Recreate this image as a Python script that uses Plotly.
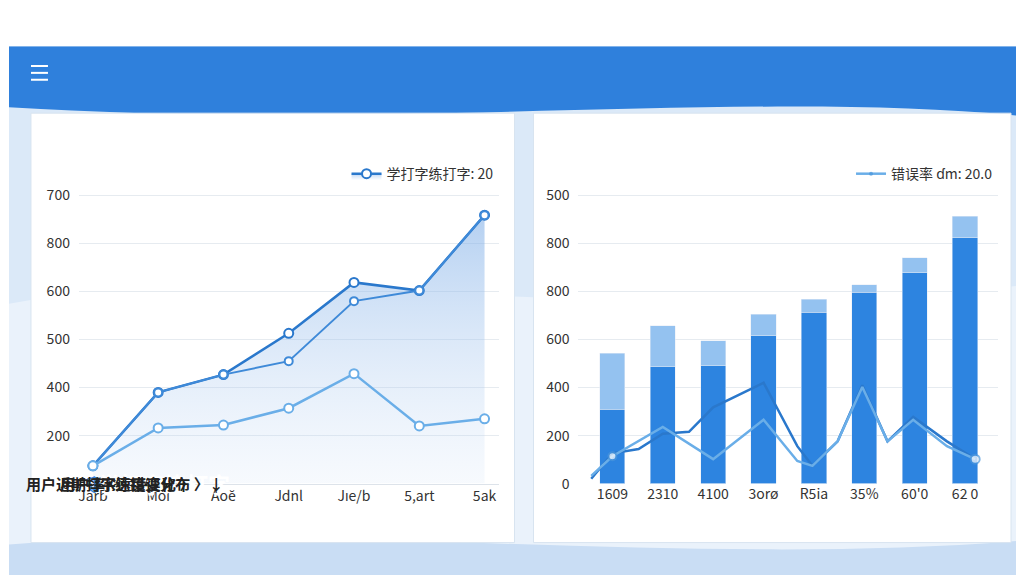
import plotly.graph_objects as go

# ---- data ----
months = ["Jarb", "Mo\u0131", "Ao\u0115", "Jdnl", "J\u0131e/b", "5,art", "5ak"]
left_top = [37, 190, 227, 313, 419, 402, 559]
left_mid = [37, 190, 227, 255, 380, 402, 559]
left_low = [37, 116, 122, 157, 229, 120, 135]
left_ticktext = ["0", "200", "400", "500", "600", "800", "700"]

cats = ["1609", "2310", "4100", "3orø", "R5ia", "35%", "60'0", "62 0"]
bar_dark = [155, 243, 245, 308, 357, 398, 439, 512]
bar_light = [116, 86, 53, 45, 27, 16, 31, 45]
right_ticktext = ["0", "200", "400", "600", "800", "800", "500"]
line_dark_x = [-0.42, 0, 0.52, 1, 1.52, 2, 3, 3.67, 3.97, 4.47, 4.96, 5.46, 5.97, 6.64, 7.2]
line_dark_y = [10, 63, 72, 104, 108, 159, 210, 78, 37, 88, 205, 88, 139, 88, 51]
line_light_x = [-0.42, 0, 1, 2, 3, 3.67, 3.97, 4.47, 4.96, 5.46, 5.97, 6.64, 7.2]
line_light_y = [16, 57, 118, 51, 133, 47, 37, 88, 201, 88, 133, 78, 51]

W, H = 1024, 576
def px(x): return x / W
def py(y): return 1 - y / H

fig = go.Figure()

# left chart traces
fig.add_trace(go.Scatter(x=list(range(7)), y=left_top, mode="lines+markers", fill="tozeroy",
    fillgradient=dict(type="vertical", colorscale=[[0, "rgba(200,220,245,0.15)"], [1, "rgba(120,170,230,0.55)"]]),
    line=dict(color="#2a78cc", width=2.5),
    marker=dict(size=9, color="white", line=dict(color="#2a78cc", width=2)),
    name="学打字练打字: 20", xaxis="x", yaxis="y", legend="legend"))
fig.add_trace(go.Scatter(x=list(range(7)), y=left_mid, mode="lines+markers",
    line=dict(color="#3f8ad8", width=2), marker=dict(size=8, color="white", line=dict(color="#3f8ad8", width=2)),
    showlegend=False, xaxis="x", yaxis="y"))
fig.add_trace(go.Scatter(x=list(range(7)), y=left_low, mode="lines+markers",
    line=dict(color="#6aaee8", width=2.5), marker=dict(size=9, color="white", line=dict(color="#6aaee8", width=2)),
    showlegend=False, xaxis="x", yaxis="y"))

# right chart traces
fig.add_trace(go.Bar(x=list(range(8)), y=bar_dark, marker=dict(color="#2d84e0"), width=0.5,
    showlegend=False, xaxis="x2", yaxis="y2"))
fig.add_trace(go.Bar(x=list(range(8)), y=bar_light, marker=dict(color="#94c2f0"), width=0.5,
    showlegend=False, xaxis="x2", yaxis="y2"))
fig.add_trace(go.Scatter(x=line_dark_x, y=line_dark_y, mode="lines",
    line=dict(color="#2a78cc", width=2.5), showlegend=False, xaxis="x2", yaxis="y2"))
fig.add_trace(go.Scatter(x=line_light_x, y=line_light_y, mode="lines+markers",
    line=dict(color="#6aaee8", width=2.5),
    marker=dict(size=[0, 8, 0, 0, 0, 0, 0, 0, 0, 0, 0, 0, 9], color="white", line=dict(color="#4a96dc", width=2)),
    name="错误率 \u0257m: 20.0", xaxis="x2", yaxis="y2", legend="legend2"))

shapes = []
shapes.append(dict(type="rect", xref="paper", yref="paper", x0=0, x1=1, y0=0, y1=1, fillcolor="#dbe9f8", line_width=0, layer="below"))
shapes.append(dict(type="path", xref="paper", yref="paper",
    path=f"M 0 {py(300)} C {px(250)} {py(250)} {px(600)} {py(330)} 1 {py(280)} L 1 0 L 0 0 Z",
    fillcolor="#eaf2fb", line_width=0, layer="below"))
shapes.append(dict(type="path", xref="paper", yref="paper",
    path=f"M 0 {py(545)} C {px(300)} {py(520)} {px(700)} {py(570)} 1 {py(540)} L 1 0 L 0 0 Z",
    fillcolor="#c9ddf4", line_width=0, layer="below"))
shapes.append(dict(type="path", xref="paper", yref="paper",
    path=f"M 0 {py(38)} L 1 {py(38)} L 1 {py(110)} C {px(750)} {py(80)} {px(400)} {py(125)} 0 {py(100)} Z",
    fillcolor="#2f80dc", line_width=0, layer="below"))
shapes.append(dict(type="rect", xref="paper", yref="paper", x0=0, x1=1, y0=py(38), y1=1, fillcolor="white", line_width=0, layer="below"))
for x0, x1 in [(22, 506), (525, 1003)]:
    shapes.append(dict(type="rect", xref="paper", yref="paper", x0=px(x0), x1=px(x1), y0=py(543), y1=py(106),
        fillcolor="white", line=dict(color="#d8e4f0", width=1), layer="below"))
for yy in [58, 65, 72]:
    shapes.append(dict(type="line", xref="paper", yref="paper", x0=px(22), x1=px(39), y0=py(yy), y1=py(yy), line=dict(color="white", width=2)))

annotations = [
    dict(text="<b>🛡</b>", x=px(22), y=py(19), showarrow=False, font=dict(size=16, color="#2f80dc")),
    dict(text="学打字练打字", x=px(38), y=py(19), xanchor="left", showarrow=False, font=dict(size=14, color="#222")),
    dict(text="—", x=px(885), y=py(18), showarrow=False, font=dict(size=14, color="#222")),
    dict(text="☐", x=px(942), y=py(18), showarrow=False, font=dict(size=18, color="#222")),
    dict(text="✕", x=px(996), y=py(18), showarrow=False, font=dict(size=16, color="#222")),
    dict(text="<b>学打字练打字</b>", x=px(55), y=py(65), xanchor="left", showarrow=False, font=dict(size=22, color="white")),
    dict(text="⧉", x=px(952), y=py(65), showarrow=False, font=dict(size=20, color="white")),
    dict(text="✕", x=px(996), y=py(65), showarrow=False, font=dict(size=20, color="white")),
    dict(text="<b>用户近期打字速度变化 〉</b>", x=px(264), y=py(134), showarrow=False, font=dict(size=15, color="#222")),
    dict(text="<b>用户率K练错误分布 〉↓</b>", x=px(764), y=py(134), showarrow=False, font=dict(size=15, color="#222")),
]

ax_common = dict(zeroline=False, tickfont=dict(size=14, color="#333"), fixedrange=True, showgrid=False)
y_common = dict(tickvals=[0, 100, 200, 300, 400, 500, 600], range=[0, 620], gridcolor="#e6ebf0",
    zeroline=False, tickfont=dict(size=14, color="#333"), ticks="", ticklabelstandoff=8)

fig.update_layout(
    width=W, height=H, margin=dict(l=0, r=0, t=0, b=0),
    paper_bgcolor="white", plot_bgcolor="rgba(0,0,0,0)",
    font=dict(family="Noto Sans CJK SC, Noto Sans"),
    shapes=shapes, annotations=annotations, barmode="stack", bargap=0.5,
    xaxis=dict(domain=[px(70), px(490)], range=[-0.214, 6.214], tickvals=list(range(7)), ticktext=months,
               showline=True, linecolor="#dde3ea", **ax_common),
    yaxis=dict(domain=[py(483), py(180)], ticktext=left_ticktext, **y_common),
    xaxis2=dict(domain=[px(570), px(990)], range=[-0.674, 7.654], tickvals=list(range(8)), ticktext=cats,
                showline=False, anchor="y2", **ax_common),
    yaxis2=dict(domain=[py(483), py(180)], ticktext=right_ticktext, anchor="x2", **y_common),
    legend=dict(x=px(490), y=py(168), xanchor="right", yanchor="middle", bgcolor="rgba(0,0,0,0)",
                font=dict(size=14, color="#333")),
    legend2=dict(x=px(990), y=py(168), xanchor="right", yanchor="middle", bgcolor="rgba(0,0,0,0)",
                 font=dict(size=14, color="#333")),
)
fig.write_html("out.html")
